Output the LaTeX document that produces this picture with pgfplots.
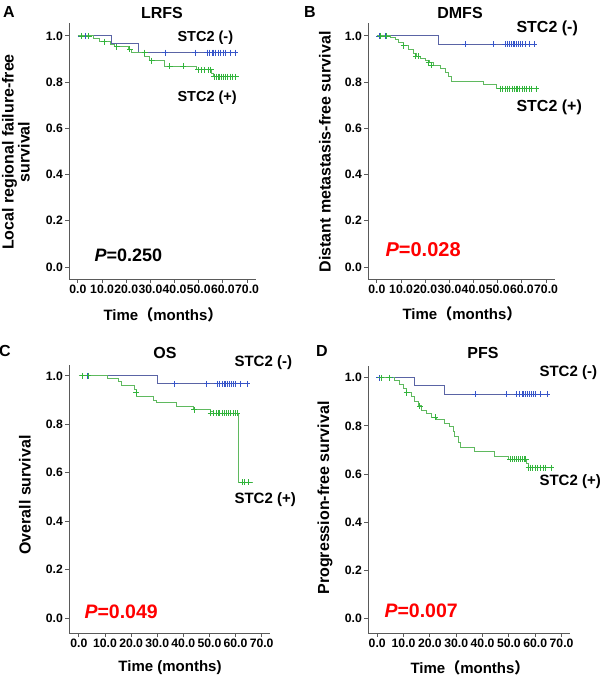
\documentclass[border=0pt]{standalone}
\usepackage{pgfplots}
\pgfplotsset{compat=1.18}
\usepackage{fontspec}
\setmainfont{Liberation Sans}
\newfontfamily\cjk{Noto Sans CJK SC}
\definecolor{bline}{RGB}{90,100,165}
\definecolor{bmark}{RGB}{55,85,200}
\definecolor{gline}{RGB}{95,185,95}
\definecolor{gmark}{RGB}{50,180,60}
\definecolor{axgray}{RGB}{90,90,90}
\definecolor{pred}{RGB}{255,0,0}
\newcommand{\fs}[1]{\fontsize{#1}{#1}\selectfont}
\pgfplotsset{
  km/.style={
    scale only axis, axis lines*=left,
    axis line style={axgray, line width=0.9pt},
    tick style={axgray, line width=0.9pt},
    tick align=outside, major tick length=4pt,
    ytick={0,0.2,0.4,0.6,0.8,1.0},
    yticklabels={0.0,0.2,0.4,0.6,0.8,1.0},
    xtick={0,10,20,30,40,50,60,70},
    xticklabels={0.0,10.0,20.0,30.0,40.0,50.0,60.0,70.0},
    tick label style={font=\bfseries\fs{12.2}},
    /pgf/number format/assume math mode=true,
    xticklabel style={inner sep=1.5pt},
    yticklabel style={inner sep=2pt},
  },
  bl/.style={const plot, bline, line width=0.9pt, no marks},
  gl/.style={const plot, gline, line width=0.9pt, no marks},
  bm/.style={only marks, mark=+, mark size=3pt, bmark, mark options={line width=0.8pt}},
  gm/.style={only marks, mark=+, mark size=3pt, gmark, mark options={line width=0.8pt}},
}
\begin{document}
\begin{tikzpicture}
\useasboundingbox (0pt,0pt) rectangle (600pt,679pt);
% ---------------- A: LRFS
\begin{axis}[km, at={(69pt,400pt)}, anchor=south west, width=187pt, height=256pt,
  xmin=-3.7, xmax=73.7, ymin=-0.052, ymax=1.056]
\addplot[bl] coordinates {(0,1)(14,0.968)(25,0.928)(65,0.928)};
\addplot[gl] coordinates {(0,1)(6.3,0.99)(9.1,0.975)(13.3,0.961)(15.3,0.954)(20.8,0.942)(22.2,0.928)(27.7,0.911)(29.8,0.893)(36,0.87)(49.2,0.853)(55.4,0.838)(56.1,0.824)(66,0.824)};
\addplot[bm] coordinates {(1.3,1)(3.2,1)(36,0.928)(48.5,0.928)(53.5,0.928)(54.5,0.928)(55.5,0.928)(56,0.928)(57,0.928)(58,0.928)(59,0.928)(60,0.928)(61,0.928)(63,0.928)(65,0.928)};
\addplot[gm] coordinates {(1.5,1)(4.5,1)(10.9,0.975)(16,0.954)(21.5,0.942)(27.7,0.928)(30.5,0.893)(38,0.87)(43.6,0.87)(49.8,0.853)(51,0.853)(52.5,0.853)(54,0.853)(55,0.853)(56.5,0.824)(57.3,0.824)(58,0.824)(58.7,0.824)(59.5,0.824)(60.3,0.824)(61,0.824)(62,0.824)(63,0.824)(64,0.824)(65.3,0.824)};
\end{axis}
\node[font=\bfseries\fs{16}] at (9pt,667pt) {A};
\node[font=\bfseries\fs{16}] at (162pt,666pt) {LRFS};
\node[anchor=west, font=\bfseries\fs{14.5}] at (174pt,641pt) {STC2 (-)};
\node[anchor=west, font=\bfseries\fs{14.5}] at (174pt,581pt) {STC2 (+)};
\node[anchor=west, font=\bfseries\fs{18}] at (91pt,424pt) {\textit{P}=0.250};
\node[rotate=90, align=center, font=\bfseries\fs{16}] at (16pt,527pt) {Local regional failure-free\\survival};
\node[font=\bfseries\fs{15}] at (163pt,364pt) {Time{\cjk （}months{\cjk ）}};
% ---------------- B: DMFS
\begin{axis}[km, at={(368pt,400pt)}, anchor=south west, width=187pt, height=256pt,
  xmin=-3.7, xmax=73.7, ymin=-0.052, ymax=1.056]
\addplot[bl] coordinates {(0,1)(25.4,0.965)(65.4,0.965)};
\addplot[gl] coordinates {(0,1)(5.4,0.994)(7.5,0.983)(8.8,0.971)(10.9,0.957)(13,0.942)(15,0.925)(16.4,0.913)(17.8,0.903)(19.9,0.893)(21.9,0.884)(23.3,0.874)(26.1,0.86)(28.2,0.841)(29.5,0.824)(30.9,0.805)(44,0.79)(49.5,0.772)(66,0.772)};
\addplot[bm] coordinates {(1,1)(3.5,1)(36.5,0.965)(48.2,0.965)(53,0.965)(54,0.965)(55,0.965)(55.7,0.965)(56.4,0.965)(57,0.965)(57.7,0.965)(58.4,0.965)(59.2,0.965)(60,0.965)(61.5,0.965)(63,0.965)(65,0.965)};
\addplot[gm] coordinates {(1.5,1)(4,1)(11,0.957)(16,0.913)(17,0.913)(21.5,0.884)(22.5,0.874)(51,0.772)(52,0.772)(53,0.772)(54,0.772)(55,0.772)(56,0.772)(57,0.772)(57.6,0.772)(58.3,0.772)(59,0.772)(60,0.772)(61,0.772)(62,0.772)(63,0.772)(64,0.772)(66,0.772)};
\end{axis}
\node[font=\bfseries\fs{16}] at (310pt,667pt) {B};
\node[font=\bfseries\fs{16}] at (460pt,666pt) {DMFS};
\node[anchor=west, font=\bfseries\fs{16}] at (513pt,651pt) {STC2 (-)};
\node[anchor=west, font=\bfseries\fs{16}] at (513pt,572pt) {STC2 (+)};
\node[anchor=west, font=\bfseries\fs{20}, text=pred] at (382pt,429pt) {\textit{P}=0.028};
\node[rotate=90, font=\bfseries\fs{16}] at (325pt,527pt) {Distant metastasis-free survival};
\node[font=\bfseries\fs{15}] at (462pt,365pt) {Time{\cjk （}months{\cjk ）}};
% ---------------- C: OS
\begin{axis}[km, at={(69pt,46pt)}, anchor=south west, width=201pt, height=268pt,
  xmin=-3.8, xmax=73.2, ymin=-0.062, ymax=1.045]
\addplot[bl] coordinates {(0,1)(30.1,0.967)(65.5,0.967)};
\addplot[gl] coordinates {(0,1)(11.1,0.99)(15.2,0.977)(16.4,0.959)(21.4,0.945)(22,0.915)(28.4,0.9)(29.7,0.89)(37.4,0.873)(43.7,0.86)(50.2,0.853)(51.4,0.846)(61.2,0.561)(66.5,0.561)};
\addplot[bm] coordinates {(1.5,1)(3.4,1)(36.7,0.967)(48.9,0.967)(53,0.967)(54,0.967)(55,0.967)(55.6,0.967)(56.3,0.967)(57,0.967)(57.6,0.967)(58.3,0.967)(59,0.967)(60,0.967)(62,0.967)(64.5,0.967)};
\addplot[gm] coordinates {(1.5,1)(3.5,1)(22,0.93)(44.1,0.86)(50.5,0.846)(51.5,0.846)(52.5,0.846)(53.3,0.846)(54,0.846)(55,0.846)(55.7,0.846)(56.5,0.846)(57.3,0.846)(58,0.846)(59,0.846)(59.8,0.846)(60.7,0.846)(62.5,0.561)(63.5,0.561)(65,0.561)};
\end{axis}
\node[font=\bfseries\fs{16}] at (5pt,328pt) {C};
\node[font=\bfseries\fs{16}] at (165pt,326pt) {OS};
\node[anchor=west, font=\bfseries\fs{15}] at (231pt,316pt) {STC2 (-)};
\node[anchor=west, font=\bfseries\fs{15}] at (231pt,179pt) {STC2 (+)};
\node[anchor=west, font=\bfseries\fs{19.5}, text=pred] at (81pt,67pt) {\textit{P}=0.049};
\node[rotate=90, font=\bfseries\fs{16}] at (25pt,184pt) {Overall survival};
\node[font=\bfseries\fs{15}] at (170pt,11pt) {Time (months)};
% ---------------- D: PFS
\begin{axis}[km, at={(368pt,46pt)}, anchor=south west, width=202pt, height=267pt,
  xmin=-3.5, xmax=73.2, ymin=-0.061, ymax=1.049]
\addplot[bl] coordinates {(0,1)(14.3,0.967)(25.7,0.932)(65.6,0.932)};
\addplot[gl] coordinates {(0,1)(6.7,0.99)(8.6,0.974)(9.9,0.956)(11.2,0.938)(13,0.921)(14.3,0.9)(15.6,0.883)(16.8,0.866)(18.7,0.85)(20.6,0.836)(22.5,0.825)(25.7,0.811)(27.6,0.797)(28.9,0.776)(29.5,0.755)(30.8,0.733)(31.6,0.709)(37.1,0.692)(44.4,0.675)(49.7,0.661)(56.7,0.645)(57.3,0.627)(66.2,0.627)};
\addplot[bm] coordinates {(0.8,1)(4.8,1)(37.1,0.932)(49.1,0.932)(53,0.932)(54,0.932)(55,0.932)(55.6,0.932)(56.3,0.932)(57,0.932)(57.7,0.932)(58.4,0.932)(59.2,0.932)(60,0.932)(62,0.932)(64.5,0.932)};
\addplot[gm] coordinates {(1.5,1)(4.5,1)(11.2,0.938)(16.2,0.883)(21.9,0.836)(50.5,0.661)(51.3,0.661)(52,0.661)(52.8,0.661)(53.5,0.661)(54.2,0.661)(55,0.661)(55.8,0.661)(56.3,0.661)(57.5,0.627)(58.3,0.627)(59,0.627)(60,0.627)(61,0.627)(62,0.627)(63,0.627)(64,0.627)(66,0.627)};
\end{axis}
\node[font=\bfseries\fs{16}] at (322pt,328pt) {D};
\node[font=\bfseries\fs{16}] at (483pt,326pt) {PFS};
\node[anchor=west, font=\bfseries\fs{15}] at (536pt,306pt) {STC2 (-)};
\node[anchor=west, font=\bfseries\fs{15}] at (536pt,197pt) {STC2 (+)};
\node[anchor=west, font=\bfseries\fs{19.5}, text=pred] at (381pt,68pt) {\textit{P}=0.007};
\node[rotate=90, font=\bfseries\fs{16}] at (325pt,181pt) {Progression-free survival};
\node[font=\bfseries\fs{15}] at (470pt,11pt) {Time{\cjk （}months{\cjk ）}};
\end{tikzpicture}
\end{document}
